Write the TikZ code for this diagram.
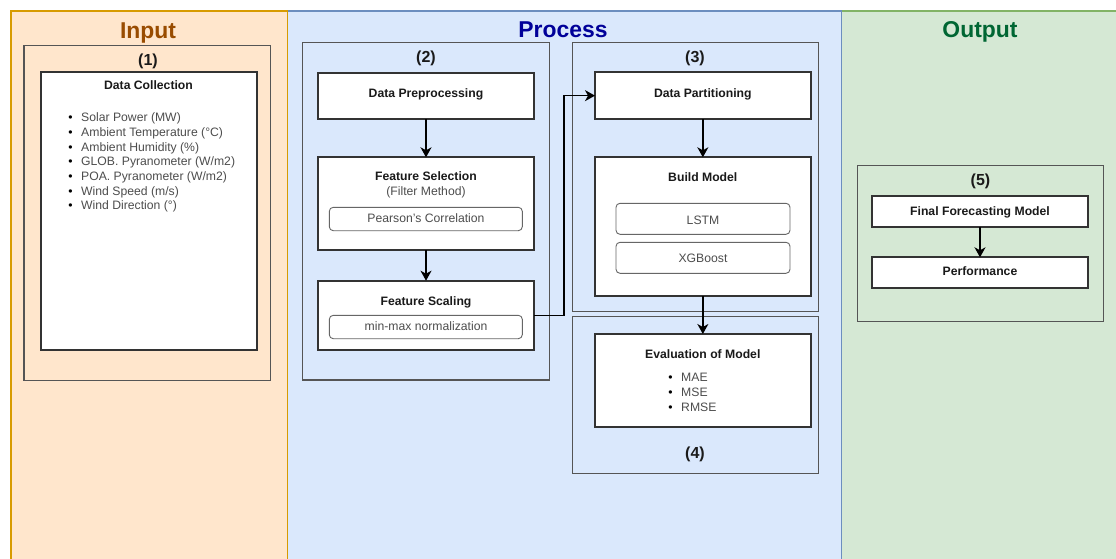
\documentclass[tikz,border=0pt]{standalone}
\usepackage{fontspec}
\setmainfont{Liberation Sans}
\usetikzlibrary{arrows.meta}

\definecolor{inFill}{HTML}{FFE6CC}
\definecolor{inLine}{HTML}{D79B00}
\definecolor{inText}{HTML}{994C00}
\definecolor{prFill}{HTML}{DAE8FC}
\definecolor{prLine}{HTML}{6C8EBF}
\definecolor{prText}{HTML}{000099}
\definecolor{outFill}{HTML}{D5E8D4}
\definecolor{outLine}{HTML}{82B366}
\definecolor{outText}{HTML}{006633}
\definecolor{grpLine}{HTML}{555555}
\definecolor{boxLine}{HTML}{333333}
\definecolor{pillLine}{HTML}{666666}
\definecolor{ink}{HTML}{1A1A1A}
\definecolor{soft}{HTML}{4D4D4D}

\newcommand{\bodysize}{\fontsize{12.2}{14.6}\selectfont}
\newcommand{\numsize}{\fontsize{16}{19}\selectfont}
\newcommand{\headsize}{\fontsize{22.9}{27}\selectfont}
\newcommand{\dotitem}{\llap{\textcolor{black}{\textbullet}\hspace{8.5pt}}}

\tikzset{
  panel/.style={line width=1.2pt, anchor=north west, inner sep=0pt, outer sep=0pt},
  grp/.style={draw=grpLine, line width=1.1pt, anchor=north west, inner sep=0pt, outer sep=0pt},
  box/.style={draw=boxLine, fill=white, line width=1.8pt, anchor=north west, inner sep=0pt, outer sep=0pt},
  pill/.style={draw=pillLine, fill=white, line width=0.9pt, rounded corners=4pt, anchor=north west, inner sep=0pt, outer sep=0pt},
  paneltitle/.style={font=\headsize\bfseries, anchor=base, inner sep=0pt},
  num/.style={font=\numsize\bfseries, text=ink, anchor=base, inner sep=0pt},
  hd/.style={font=\bodysize\bfseries, text=ink, anchor=base, inner sep=0pt},
  sub/.style={font=\bodysize, text=soft, anchor=base, inner sep=0pt},
  item/.style={font=\bodysize, text=soft, anchor=base west, inner sep=0pt},
  arr/.style={draw=black, line width=1.5pt, -{Stealth[length=10pt,width=11pt,inset=3pt]}},
}

\begin{document}
\begin{tikzpicture}[x=1pt,y=-1pt]
\useasboundingbox (0,0) rectangle (1116,558);
\fill[white] (0,0) rectangle (1116,558);

% stage panels (they run on past the lower edge of the page)
\node[panel, fill=outFill, draw=outLine, minimum width=276pt, minimum height=554pt] (outPanel) at (841.7,11) {};
\node[panel, fill=prFill, draw=prLine, minimum width=554.4pt, minimum height=554pt] (procPanel) at (287.3,11) {};
\node[panel, fill=inFill, draw=inLine, minimum width=276.3pt, minimum height=554pt] (inPanel) at (11,11) {};

\node[paneltitle, text=inText] (inTitle) at (148,38) {Input};
\node[paneltitle, text=prText] (procTitle) at (563,37.5) {Process};
\node[paneltitle, text=outText] (outTitle) at (980,37.5) {Output};

% step groups
\node[grp, minimum width=246.7pt, minimum height=335pt] (g1) at (24,45.7) {};
\node[grp, minimum width=246.6pt, minimum height=337.7pt] (g2) at (302.7,42.3) {};
\node[grp, minimum width=246.4pt, minimum height=269.4pt] (g3) at (572.3,42.3) {};
\node[grp, minimum width=246.4pt, minimum height=156.6pt] (g4) at (572.3,316.7) {};
\node[grp, minimum width=246pt, minimum height=156pt] (g5) at (857.3,165.7) {};

\node[num] (n1) at (148,65) {(1)};
\node[num] (n2) at (426,62) {(2)};
\node[num] (n3) at (695,62) {(3)};
\node[num] (n4) at (695,458.3) {(4)};
\node[num] (n5) at (980.5,185) {(5)};

% (1) data collection
\node[box, minimum width=215.7pt, minimum height=277.7pt] (dc) at (41,72.3) {};
\node[hd] (dcT) at (148.5,89.5) {Data Collection};
\foreach \t [count=\i] in {Solar Power (MW), Ambient Temperature (°C), Ambient Humidity (\%),
    GLOB. Pyranometer (W/m2), POA. Pyranometer (W/m2), Wind Speed (m/s), Wind Direction (°)}
  \node[item] (dcItem\i) at (81,{121.7+14.7*(\i-1)}) {\dotitem\t};

% (2) preprocessing chain
\node[box, minimum width=216pt, minimum height=46.3pt] (dp) at (318,72.7) {};
\node[hd] (dpT) at (426,97.5) {Data Preprocessing};

\node[box, minimum width=216pt, minimum height=92.7pt] (fs) at (318,157.3) {};
\node[hd] (fsT) at (426,180.7) {Feature Selection};
\node[sub] (fsS) at (426,195.5) {(Filter Method)};
\node[pill, minimum width=193pt, minimum height=23.4pt] (pc) at (329.3,207.3) {};
\node[sub] (pcT) at (426,222.7) {Pearson's Correlation};

\node[box, minimum width=216pt, minimum height=69.3pt] (fsc) at (318,280.7) {};
\node[hd] (fscT) at (426,305) {Feature Scaling};
\node[pill, minimum width=193pt, minimum height=23.4pt] (mm) at (329.3,315.3) {};
\node[sub] (mmT) at (426,330.5) {min-max normalization};

% (3) modelling
\node[box, minimum width=215.7pt, minimum height=46.7pt] (dpart) at (595,72.3) {};
\node[hd] (dpartT) at (702.8,97.5) {Data Partitioning};

\node[box, minimum width=215.7pt, minimum height=138.7pt] (bm) at (595,157.3) {};
\node[hd] (bmT) at (702.8,181.7) {Build Model};
\node[pill, minimum width=174pt, minimum height=31pt] (lstm) at (616,203.3) {};
\node[sub] (lstmT) at (703,224) {LSTM};
\node[pill, minimum width=174pt, minimum height=31pt] (xgb) at (616,242.3) {};
\node[sub] (xgbT) at (703,262.5) {XGBoost};

% (4) evaluation
\node[box, minimum width=215.7pt, minimum height=93.3pt] (ev) at (595,334) {};
\node[hd] (evT) at (702.8,358.3) {Evaluation of Model};
\foreach \t [count=\i] in {MAE, MSE, RMSE}
  \node[item] (evItem\i) at (681,{381.7+14.7*(\i-1)}) {\dotitem\t};

% (5) output
\node[box, minimum width=216.6pt, minimum height=30.7pt] (ffm) at (871.7,196) {};
\node[hd] (ffmT) at (980,215.5) {Final Forecasting Model};
\node[box, minimum width=216.6pt, minimum height=31pt] (perf) at (871.7,257.3) {};
\node[hd] (perfT) at (980,275) {Performance};

% flow
\draw[arr] (dp.south) -- (fs.north);
\draw[arr] (fs.south) -- (fsc.north);
\draw[arr] (fsc.east) -- ++(30,0) |- (dpart.west);
\draw[arr] (dpart.south) -- (bm.north);
\draw[arr] (bm.south) -- (ev.north);
\draw[arr] (ffm.south) -- (perf.north);
\end{tikzpicture}
\end{document}
